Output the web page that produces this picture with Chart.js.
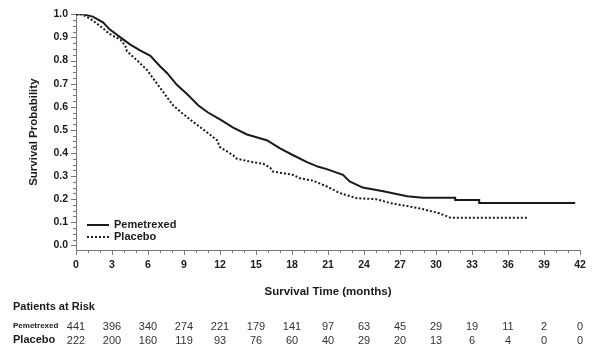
<!DOCTYPE html>
<html>
<head>
<meta charset="utf-8">
<script src="https://cdn.jsdelivr.net/npm/chart.js@4.4.0/dist/chart.umd.min.js"></script>
<style>
  html, body { margin: 0; padding: 0; background: #fff; }
  #wrap { width: 600px; height: 354px; position: relative; }
</style>
</head>
<body>
<div id="wrap"><canvas id="km" width="600" height="354"></canvas></div>
<script>
// Kaplan-Meier curves (months, survival probability)
const pemTime = [0, 0.6, 1.4, 2.25, 2.8, 3.7, 4.5, 5.3, 6.2, 7.0, 7.6, 8.4, 9.25, 10.2, 11.0, 12.0, 13.1, 14.25, 15.9, 17.0, 18.1, 19.25, 20.2, 20.9, 22.25, 22.8, 23.9, 25.6, 27.6, 28.9, 31.6, 31.6, 33.6, 33.6, 41.6];
const pemSurv = [1.0, 1.0, 0.99, 0.965, 0.935, 0.90, 0.87, 0.845, 0.82, 0.775, 0.745, 0.695, 0.655, 0.605, 0.575, 0.545, 0.51, 0.48, 0.455, 0.42, 0.39, 0.36, 0.34, 0.33, 0.305, 0.277, 0.25, 0.234, 0.213, 0.206, 0.206, 0.196, 0.196, 0.183, 0.183];

const plaTime = [0, 0.5, 1.2, 2.0, 2.8, 3.7, 4.1, 4.25, 5.1, 5.9, 6.75, 7.25, 8.1, 8.9, 9.75, 10.9, 11.75, 12.0, 13.1, 13.4, 14.75, 15.6, 16.2, 16.4, 18.1, 18.7, 19.75, 20.9, 22.0, 23.4, 25.0, 26.2, 27.6, 28.9, 30.2, 31.2, 37.7];
const plaSurv = [1.0, 1.0, 0.98, 0.95, 0.915, 0.89, 0.865, 0.84, 0.80, 0.76, 0.70, 0.665, 0.605, 0.57, 0.535, 0.49, 0.455, 0.425, 0.39, 0.375, 0.36, 0.353, 0.335, 0.32, 0.305, 0.29, 0.28, 0.255, 0.226, 0.204, 0.20, 0.183, 0.17, 0.157, 0.14, 0.12, 0.12];

// Patients at risk table
const riskTimes = [0, 3, 6, 9, 12, 15, 18, 21, 24, 27, 30, 33, 36, 39, 42];
const pemRisk = [441, 396, 340, 274, 221, 179, 141, 97, 63, 45, 29, 19, 11, 2, 0];
const plaRisk = [222, 200, 160, 119, 93, 76, 60, 40, 29, 20, 13, 6, 4, 0, 0];

const yTicks = [0, 0.1, 0.2, 0.3, 0.4, 0.5, 0.6, 0.7, 0.8, 0.9, 1.0];

const FONT = '"Liberation Sans", Arial, sans-serif';
const INK = '#1a1a1a';
const AXIS = '#777';

function toPoints(xs, ys) {
  return xs.map((x, i) => ({ x: x, y: ys[i] }));
}

// Minor/major tick marks, titles, legend and the risk table
const extras = {
  id: 'extras',
  afterDraw(chart) {
    const ctx = chart.ctx;
    const xs = chart.scales.x;
    const ys = chart.scales.y;
    const area = chart.chartArea;
    ctx.save();
    ctx.strokeStyle = AXIS;
    ctx.lineWidth = 1;

    // x ticks every month, longer every 3
    for (let m = 0; m <= 42; m++) {
      const px = Math.round(xs.getPixelForValue(m)) + 0.5;
      const len = m % 3 === 0 ? 5 : 3;
      ctx.beginPath();
      ctx.moveTo(px, area.bottom);
      ctx.lineTo(px, area.bottom + len);
      ctx.stroke();
    }
    // y ticks every 0.025, longer every 0.1
    for (let k = 0; k <= 40; k++) {
      const v = k * 0.025;
      const py = Math.round(ys.getPixelForValue(v)) + 0.5;
      const len = k % 4 === 0 ? 5 : 3;
      ctx.beginPath();
      ctx.moveTo(area.left, py);
      ctx.lineTo(area.left - len, py);
      ctx.stroke();
    }

    ctx.fillStyle = INK;

    // axis titles
    ctx.font = 'bold 11.5px ' + FONT;
    ctx.textAlign = 'center';
    ctx.textBaseline = 'middle';
    ctx.fillText('Survival Time (months)', (area.left + area.right) / 2, 292);
    ctx.save();
    ctx.translate(34, (area.top + area.bottom) / 2);
    ctx.rotate(-Math.PI / 2);
    ctx.fillText('Survival Probability', 0, 0);
    ctx.restore();

    // legend
    ctx.strokeStyle = INK;
    ctx.lineWidth = 2;
    ctx.beginPath();
    ctx.moveTo(87, 225);
    ctx.lineTo(109, 225);
    ctx.stroke();
    ctx.setLineDash([2, 2]);
    ctx.beginPath();
    ctx.moveTo(87, 237);
    ctx.lineTo(109, 237);
    ctx.stroke();
    ctx.setLineDash([]);
    ctx.font = 'bold 11px ' + FONT;
    ctx.textAlign = 'left';
    ctx.fillText('Pemetrexed', 114, 225);
    ctx.fillText('Placebo', 114, 237);

    // patients at risk
    ctx.font = 'bold 11px ' + FONT;
    ctx.fillText('Patients at Risk', 13, 307);
    ctx.font = 'bold 8px ' + FONT;
    ctx.fillText('Pemetrexed', 13, 326);
    ctx.font = 'bold 11px ' + FONT;
    ctx.fillText('Placebo', 13, 340);

    ctx.font = '11px ' + FONT;
    ctx.fillStyle = '#333';
    ctx.textAlign = 'center';
    riskTimes.forEach((t, i) => {
      const px = xs.getPixelForValue(t);
      ctx.fillText(String(pemRisk[i]), px, 327);
      ctx.fillText(String(plaRisk[i]), px, 341);
    });
    ctx.restore();
  }
};

new Chart(document.getElementById('km'), {
  type: 'line',
  data: {
    datasets: [
      {
        label: 'Pemetrexed',
        data: toPoints(pemTime, pemSurv),
        borderColor: INK,
        borderWidth: 2,
        pointRadius: 0,
        tension: 0,
        fill: false
      },
      {
        label: 'Placebo',
        data: toPoints(plaTime, plaSurv),
        borderColor: INK,
        borderWidth: 2,
        borderDash: [2, 2],
        pointRadius: 0,
        tension: 0,
        fill: false
      }
    ]
  },
  options: {
    responsive: false,
    animation: false,
    devicePixelRatio: 1,
    layout: { padding: { left: 0, top: 10, right: 20, bottom: 0 } },
    plugins: {
      legend: { display: false },
      tooltip: { enabled: false }
    },
    scales: {
      x: {
        type: 'linear',
        min: 0,
        max: 42,
        grid: { display: false, drawTicks: false },
        border: { display: true, color: AXIS, width: 1 },
        ticks: {
          stepSize: 3,
          padding: 9,
          color: INK,
          font: { family: FONT, size: 10.5, weight: 'bold' },
          maxRotation: 0,
          autoSkip: false
        },
        afterFit(scale) { scale.height = 104; }
      },
      y: {
        type: 'linear',
        min: -0.02,
        max: 1.0,
        grid: { display: false, drawTicks: false },
        border: { display: true, color: AXIS, width: 1 },
        afterBuildTicks(scale) {
          scale.ticks = yTicks.map(v => ({ value: v }));
        },
        ticks: {
          padding: 8,
          color: INK,
          font: { family: FONT, size: 10.5, weight: 'bold' },
          autoSkip: false,
          callback: v => v.toFixed(1)
        },
        afterFit(scale) { scale.width = 76; }
      }
    }
  },
  plugins: [extras]
});
</script>
</body>
</html>
